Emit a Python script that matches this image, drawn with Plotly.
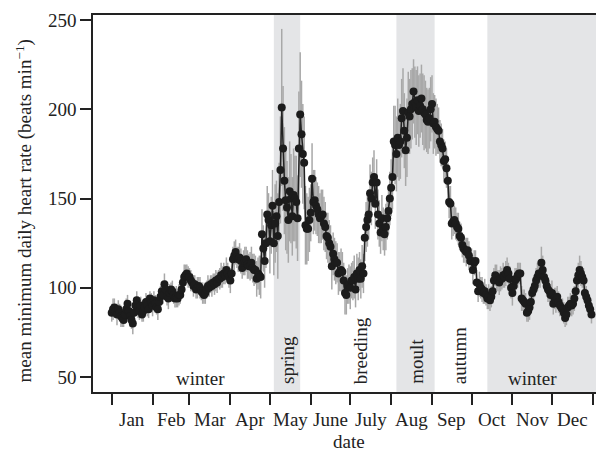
import plotly.graph_objects as go

# ---- data ----
months = ["Jan", "Feb", "Mar", "Apr", "May", "June", "July", "Aug", "Sep", "Oct", "Nov", "Dec"]
month_starts = [0, 31, 59, 90, 120, 151, 181, 212, 243, 273, 304, 334, 365]
y_ticks = [50, 100, 150, 200, 250]

heart_rate = [
    86, 88, 89, 87, 85, 88, 86, 84, 83, 82,
    85, 88, 91, 87, 84, 82, 80, 86, 90, 93,
    89, 87, 90, 85, 87, 89, 92, 90, 88, 94,
    92, 90, 93, 91, 89, 88, 92, 95, 98, 96,
    102, 99, 95, 94, 97, 99, 98, 96, 94, 95,
    94, 96, 96, 99, 103, 106, 107, 108, 106, 106,
    104, 103, 101, 102, 99, 100, 101, 100, 98, 97,
    96, 97, 99, 101, 100, 102, 101, 103, 102, 104,
    103, 105, 105, 107, 106, 108, 107, 110, 108, 106,
    104, 108, 116, 118, 120, 117, 116, 117, 115, 111,
    114, 115, 116, 113, 112, 112, 114, 111, 110, 110,
    105, 108, 107, 106, 130, 122, 115, 125, 141, 138,
    126, 135, 146, 125, 136, 140, 129, 148, 166, 201,
    178, 160, 149, 145, 138, 154, 150, 140, 152, 150,
    148, 139, 178, 197, 186, 175, 170, 135, 133, 133,
    138, 142, 161, 148, 149, 146, 144, 141, 139, 140,
    141, 136, 134, 129, 128, 125, 123, 112, 119, 116,
    114, 114, 108, 109, 110, 109, 104, 97, 96, 101,
    102, 100, 104, 104, 106, 99, 108, 105, 110, 105,
    112, 108, 128, 134, 138, 141, 153, 150, 159, 162,
    147, 159, 141, 136, 131, 139, 133, 130, 134, 139,
    143, 150, 156, 162, 182, 180, 175, 184, 180, 182,
    195, 199, 188, 177, 184, 198, 196, 200, 203, 210,
    204, 201, 205, 199, 202, 206, 200, 198, 197, 194,
    193, 195, 200, 203, 192, 193, 190, 189, 188, 182,
    180, 178, 171, 172, 167, 160, 148, 147, 136, 137,
    138, 136, 134, 133, 129, 128, 124, 122, 121, 120,
    121, 118, 115, 115, 110, 114, 115, 103, 98, 102,
    100, 99, 97, 98, 96, 94, 95, 93, 95, 98,
    104, 107, 106, 104, 103, 105, 105, 107, 106, 108,
    110, 108, 105, 100, 97, 101, 104, 105, 107, 108,
    108, 94, 93, 92, 91, 86, 87, 89, 92, 97,
    99, 101, 104, 106, 108, 108, 114, 110, 106, 104,
    101, 99, 98, 96, 97, 91, 94, 93, 95, 92,
    90, 89, 88, 86, 83, 85, 89, 90, 91, 90,
    91, 94, 98, 104, 107, 110, 108, 106, 104, 97,
    95, 93, 90, 88, 85,
]

hr_error = [
    5, 6, 5, 4, 6, 5, 5, 6, 5, 4,
    5, 6, 5, 4, 6, 5, 6, 5, 4, 5,
    6, 5, 5, 4, 6, 5, 5, 6, 5, 4,
    5, 6, 5, 5, 4, 6, 5, 6, 5, 5,
    6, 5, 5, 6, 5, 4, 6, 5, 5, 6,
    5, 6, 5, 5, 6, 7, 6, 5, 6, 5,
    6, 5, 6, 5, 5, 6, 5, 6, 5, 6,
    5, 6, 5, 6, 5, 5, 6, 5, 6, 6,
    6, 5, 6, 7, 6, 6, 5, 7, 6, 6,
    7, 6, 7, 8, 7, 6, 7, 8, 7, 6,
    7, 8, 7, 8, 7, 8, 9, 8, 9, 8,
    10, 9, 11, 12, 14, 13, 15, 14, 16, 15,
    18, 16, 20, 18, 22, 20, 24, 22, 30, 44,
    35, 30, 28, 26, 24, 28, 25, 22, 26, 24,
    26, 24, 32, 35, 30, 28, 26, 22, 20, 18,
    18, 16, 20, 18, 17, 16, 15, 16, 14, 15,
    14, 15, 14, 13, 14, 13, 12, 13, 12, 12,
    12, 11, 12, 11, 12, 11, 10, 12, 11, 10,
    11, 12, 10, 11, 12, 10, 11, 12, 10, 11,
    12, 11, 13, 14, 15, 14, 16, 15, 14, 15,
    14, 13, 14, 13, 12, 13, 12, 12, 13, 12,
    13, 15, 16, 18, 20, 22, 21, 22, 20, 21,
    22, 24, 21, 20, 22, 23, 21, 22, 20, 18,
    20, 21, 19, 20, 18, 19, 20, 21, 19, 18,
    18, 17, 18, 16, 17, 15, 16, 14, 13, 12,
    12, 11, 12, 10, 11, 10, 9, 10, 9, 8,
    8, 9, 8, 9, 8, 8, 7, 8, 7, 8,
    7, 8, 7, 7, 8, 7, 6, 7, 6, 7,
    6, 7, 6, 7, 6, 6, 7, 6, 6, 7,
    7, 6, 7, 6, 7, 7, 6, 7, 6, 7,
    7, 6, 7, 6, 7, 6, 7, 6, 7, 6,
    6, 7, 6, 7, 6, 5, 6, 7, 6, 6,
    7, 6, 7, 8, 7, 8, 9, 8, 7, 6,
    6, 7, 6, 6, 7, 6, 6, 7, 6, 6,
    6, 5, 6, 6, 5, 6, 6, 5, 6, 6,
    6, 7, 6, 7, 7, 8, 7, 6, 7, 6,
    6, 5, 6, 5, 5,
]

day = list(range(len(heart_rate)))

# shaded periods (start day, end day)
shaded_periods = [(123, 143), (216, 245), (285, 400)]
# period labels: (text, day, rotated)
period_labels = [("winter", 67, False), ("spring", 133, True), ("breeding", 189, True),
                 ("moult", 231, True), ("autumn", 264, True), ("winter", 319, False)]

FONT = "Liberation Serif, Times New Roman, serif"
FS = 19
INK = "#222222"

fig = go.Figure()
fig.add_trace(go.Scatter(
    x=day, y=heart_rate, mode="lines+markers",
    line=dict(color=INK, width=1.5),
    marker=dict(color="#1c1c1c", size=8),
    error_y=dict(type="data", array=hr_error, visible=True,
                 color="#a8a8a8", thickness=1.5, width=0),
    showlegend=False,
))

shapes = []
for s, e in shaded_periods:
    shapes.append(dict(type="rect", xref="x", yref="paper", x0=s, x1=e, y0=0, y1=1,
                       fillcolor="#e4e5e7", line=dict(width=0), layer="below"))

annotations = []
for text, d, rot in period_labels:
    if rot:
        annotations.append(dict(x=d, y=0, xref="x", yref="paper", yshift=6, text=text,
                                textangle=-90, showarrow=False, xanchor="center", yanchor="bottom",
                                font=dict(family=FONT, size=FS, color=INK)))
    else:
        annotations.append(dict(x=d, y=0, xref="x", yref="paper", yshift=14, text=text,
                                showarrow=False, xanchor="center", yanchor="middle",
                                font=dict(family=FONT, size=FS, color=INK)))

for i, m in enumerate(months):
    mid = (month_starts[i] + month_starts[i + 1]) / 2
    annotations.append(dict(x=mid, y=0, xref="x", yref="paper", yshift=-27, text=m,
                            showarrow=False, xanchor="center", yanchor="middle",
                            font=dict(family=FONT, size=FS, color=INK)))

annotations.append(dict(x=0.5, y=0, xref="paper", yref="paper", yshift=-49, text="date",
                        showarrow=False, xanchor="center", yanchor="middle",
                        font=dict(family=FONT, size=FS, color=INK)))
annotations.append(dict(x=0, y=0.5, xref="paper", yref="paper", xshift=-69, yshift=-8,
                        text="mean minimum daily heart rate (beats min<sup>\u22121</sup>)",
                        textangle=-90, showarrow=False, xanchor="center", yanchor="middle",
                        font=dict(family=FONT, size=FS, color=INK)))

# the page body has an 8px margin, so the figure is 8px smaller and margins compensate
fig.update_layout(
    width=596, height=445,
    margin=dict(l=85, r=0, t=7, b=61, autoexpand=False),
    paper_bgcolor="white", plot_bgcolor="white",
    shapes=shapes, annotations=annotations,
    font=dict(family=FONT, size=FS, color=INK),
    xaxis=dict(range=[-14.2, 373.5], tickvals=month_starts, showticklabels=False,
               ticks="outside", ticklen=11, tickwidth=1.5, tickcolor=INK,
               showline=True, linecolor=INK, linewidth=1.5, mirror=True,
               showgrid=False, zeroline=False),
    yaxis=dict(range=[41.6, 252.8], tickvals=y_ticks,
               ticks="outside", ticklen=11, tickwidth=1.5, tickcolor=INK,
               showline=True, linecolor=INK, linewidth=1.5,
               showgrid=False, zeroline=False,
               tickfont=dict(family=FONT, size=FS, color=INK)),
)

fig.write_html("out.html")
